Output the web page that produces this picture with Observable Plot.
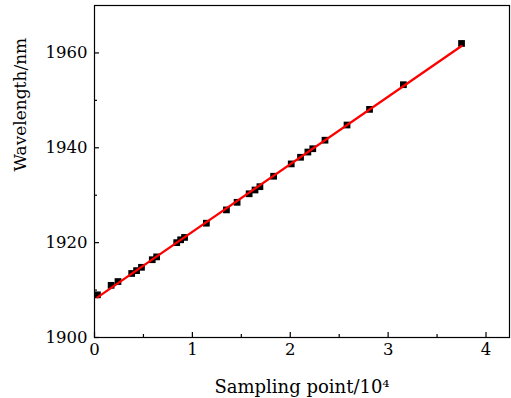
<!DOCTYPE html>
<html>
<head>
<meta charset="utf-8">
<script src="https://cdn.jsdelivr.net/npm/d3@7"></script>
<script src="https://cdn.jsdelivr.net/npm/@observablehq/plot@0.6"></script>
<style>
  html, body { margin: 0; padding: 0; background: #fff; }
  #chart svg { display: block; }
</style>
</head>
<body>
<div id="chart"></div>
<script>
// Sampling point (×10^4)
const samplingPoint = [0.03, 0.17, 0.24, 0.38, 0.43, 0.48, 0.59, 0.635, 0.84, 0.88, 0.92,
  1.143, 1.348, 1.457, 1.58, 1.64, 1.69, 1.83, 2.01, 2.105, 2.18, 2.23, 2.355, 2.58, 2.81, 3.156, 3.75];
// Wavelength (nm)
const wavelength = [1909.0, 1911.0, 1911.8, 1913.5, 1914.1, 1914.8, 1916.4, 1917.0, 1920.0, 1920.6, 1921.1,
  1924.1, 1926.9, 1928.5, 1930.3, 1931.1, 1931.8, 1934.0, 1936.6, 1938.0, 1939.1, 1939.8, 1941.6, 1944.8, 1948.1, 1953.3, 1962.0];

const xMajor = [0, 1, 2, 3, 4];
const xMinor = [0.5, 1.5, 2.5, 3.5];
const yMajor = [1900, 1920, 1940, 1960];
const yMinor = [1910, 1930, 1950];

const data = samplingPoint.map((x, i) => ({x, y: wavelength[i]}));

const font = "'DejaVu Serif', serif";
const fmt = d => String(d);

const chart = Plot.plot({
  width: 511,
  height: 398,
  marginLeft: 94,
  marginRight: 2,
  marginTop: 5,
  marginBottom: 61,
  style: {fontFamily: font, fontSize: "16.5px", color: "#000", background: "#fff"},
  x: {domain: [0, 4.24]},
  y: {domain: [1900, 1970]},
  marks: [
    Plot.frame({stroke: "#000", strokeWidth: 1.2}),
    Plot.axisX(xMajor, {tickSize: 0, tickPadding: 6, fontSize: 16.5, tickFormat: fmt, label: null}),
    Plot.axisX(xMajor, {tickSize: -5, text: null, label: null, strokeWidth: 1.2}),
    Plot.axisX(xMinor, {tickSize: -3, text: null, label: null, strokeWidth: 1.2}),
    Plot.axisY(yMajor, {tickSize: 0, tickPadding: 7, fontSize: 16.5, tickFormat: fmt, label: null}),
    Plot.axisY(yMajor, {tickSize: -5, text: null, label: null, strokeWidth: 1.2}),
    Plot.axisY(yMinor, {tickSize: -3, text: null, label: null, strokeWidth: 1.2}),
    Plot.text(["Sampling point/10⁴"], {frameAnchor: "bottom", dy: 50, fontSize: 18, text: d => d, lineAnchor: "middle"}),
    Plot.text(["Wavelength/nm"], {frameAnchor: "left", dx: -74, rotate: -90, fontSize: 17, text: d => d, lineAnchor: "middle"}),
    Plot.dot(data, {x: "x", y: "y", symbol: "square", r: 3.8, fill: "#000", stroke: "none"}),
    Plot.linearRegressionY(data, {x: "x", y: "y", stroke: "#ff0000", strokeWidth: 2.3, ci: 0})
  ]
});

document.getElementById("chart").appendChild(chart);
</script>
</body>
</html>
